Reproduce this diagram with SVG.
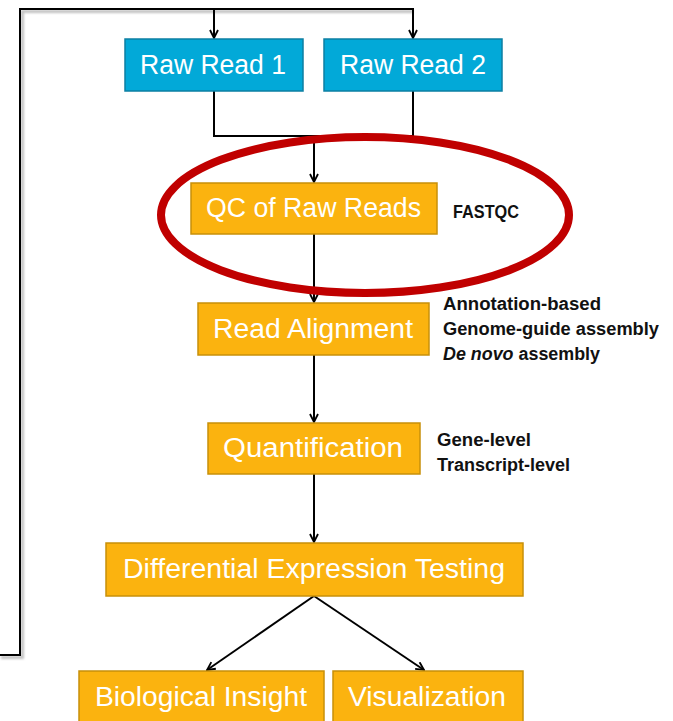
<svg xmlns="http://www.w3.org/2000/svg" width="673" height="721" viewBox="0 0 673 721">
<style>
.blue{fill:#02A9D8;stroke:#0D7FA3;stroke-width:1.5}
.orange{fill:#FBB30F;stroke:#C8900A;stroke-width:1.5}
.bt{font-family:"Liberation Sans",Arial,sans-serif;font-size:27px;fill:#fff}
.st{font-family:"Liberation Sans",Arial,sans-serif;font-size:18px;font-weight:bold;fill:#111}
.ln{fill:none;stroke:#000;stroke-width:2}
.sh{fill:none;stroke:#999;stroke-width:3;opacity:0.6}
</style>
<defs>
<filter id="blur" x="-5%" y="-5%" width="110%" height="110%"><feGaussianBlur stdDeviation="1"/></filter>
<marker id="ah" viewBox="0 0 10 10" refX="9" refY="5" markerWidth="10" markerHeight="10" markerUnits="userSpaceOnUse" orient="auto">
<path d="M1,1 L9,5 L1,9" fill="none" stroke="#000" stroke-width="1.8"/>
</marker>
</defs>
<g id="connectors">
<path class="sh" filter="url(#blur)" d="M1,657.5 H22.5 V11.5 H413"/>
<path class="ln" d="M0,655 H20 V9 H413 V38" stroke-width="2.5" marker-end="url(#ah)"/>
<path class="ln" d="M214,9 V38" marker-end="url(#ah)"/>
<path class="ln" d="M214,91 V136 H413 V91"/>
<path class="ln" d="M314,136 V182" marker-end="url(#ah)"/>
<path class="ln" d="M314,234 V302" marker-end="url(#ah)"/>
<path class="ln" d="M314,355 V422" marker-end="url(#ah)"/>
<path class="ln" d="M314,474 V542" marker-end="url(#ah)"/>
<path class="ln" d="M314,596 L207,670" marker-end="url(#ah)"/>
<path class="ln" d="M314,596 L424,670" marker-end="url(#ah)"/>
</g>
<g id="raw1"><rect class="blue" x="125" y="39" width="178" height="52"/><text class="bt" x="140" y="74" textLength="146" lengthAdjust="spacingAndGlyphs">Raw Read 1</text></g>
<g id="raw2"><rect class="blue" x="324" y="39" width="178" height="52"/><text class="bt" x="340" y="74" textLength="146" lengthAdjust="spacingAndGlyphs">Raw Read 2</text></g>
<g id="qc"><rect class="orange" x="191" y="183" width="246" height="51"/><text class="bt" x="206" y="217" textLength="215" lengthAdjust="spacingAndGlyphs">QC of Raw Reads</text></g>
<g id="fastqc"><text class="st" x="453" y="218" textLength="66" lengthAdjust="spacingAndGlyphs">FASTQC</text></g>
<g id="highlight"><ellipse cx="365" cy="215" rx="204" ry="78" fill="none" stroke="#C00000" stroke-width="8"/></g>
<g id="align"><rect class="orange" x="198" y="303" width="231" height="52"/><text class="bt" x="213" y="338" textLength="200" lengthAdjust="spacingAndGlyphs">Read Alignment</text></g>
<g id="align-notes">
<text class="st" x="443" y="310" textLength="158" lengthAdjust="spacingAndGlyphs">Annotation-based</text>
<text class="st" x="443" y="335" textLength="216" lengthAdjust="spacingAndGlyphs">Genome-guide assembly</text>
<text class="st" x="443" y="360" textLength="157" lengthAdjust="spacingAndGlyphs"><tspan font-style="italic">De novo</tspan> assembly</text>
</g>
<g id="quant"><rect class="orange" x="208" y="423" width="212" height="51"/><text class="bt" x="223" y="457" textLength="180" lengthAdjust="spacingAndGlyphs">Quantification</text></g>
<g id="quant-notes">
<text class="st" x="437" y="446" textLength="94" lengthAdjust="spacingAndGlyphs">Gene-level</text>
<text class="st" x="437" y="471" textLength="133" lengthAdjust="spacingAndGlyphs">Transcript-level</text>
</g>
<g id="de"><rect class="orange" x="106" y="543" width="417" height="53"/><text class="bt" x="123" y="578" textLength="382" lengthAdjust="spacingAndGlyphs">Differential Expression Testing</text></g>
<g id="bio"><rect class="orange" x="79" y="671" width="245" height="60"/><text class="bt" x="95" y="706" textLength="212" lengthAdjust="spacingAndGlyphs">Biological Insight</text></g>
<g id="vis"><rect class="orange" x="333" y="671" width="190" height="60"/><text class="bt" x="348" y="706" textLength="158" lengthAdjust="spacingAndGlyphs">Visualization</text></g>
</svg>
